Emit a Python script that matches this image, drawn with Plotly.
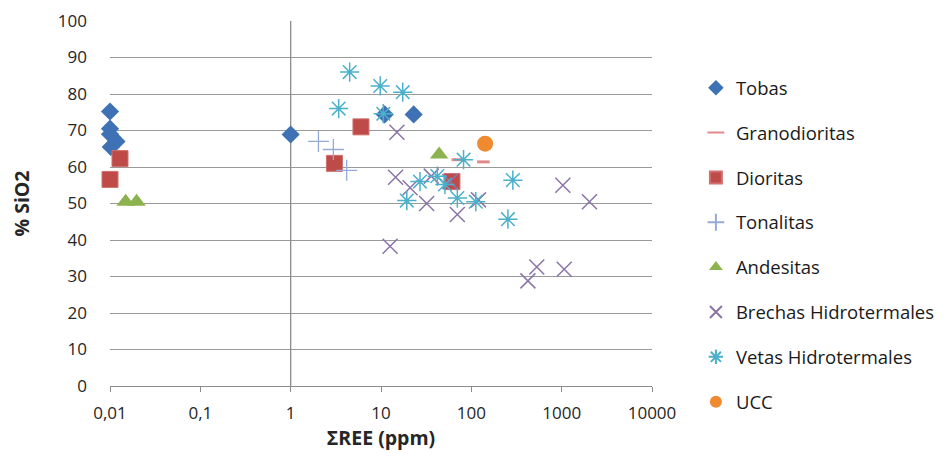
import plotly.graph_objects as go

# ---- data ----
tobas_x = [0.01, 0.01, 0.01, 0.0118, 0.0102, 1.0, 11.0, 23.0]
tobas_y = [75.2, 70.5, 69.0, 67.0, 65.5, 68.9, 74.4, 74.4]

grano_x = [71, 136]
grano_y = [62.0, 61.4]

dior_x = [0.01, 0.0129, 6.0, 3.05, 61.0]
dior_y = [56.6, 62.3, 71.0, 61.0, 56.0]

tonal_x = [2.03, 2.97, 4.17]
tonal_y = [67.0, 64.8, 59.1]

andes_x = [0.0149, 0.0197, 44.0]
andes_y = [50.5, 50.5, 63.4]

brech_x = [15, 14.5, 21, 32, 36, 58, 70, 120, 12.6, 1030, 2030, 530, 423, 1067]
brech_y = [69.5, 57.2, 54.3, 50.0, 57.5, 56.0, 47.0, 51.0, 38.3, 55.0, 50.5, 32.6, 28.8, 32.0]

vetas_x = [4.5, 9.8, 17.4, 3.4, 10.6, 82, 27, 42, 51, 19.3, 70, 112, 288, 254]
vetas_y = [86.0, 82.2, 80.5, 76.0, 74.6, 62.0, 56.0, 57.5, 55.2, 50.8, 51.5, 50.5, 56.4, 45.7]

ucc_x = [142]
ucc_y = [66.4]

x_ticks = [0.01, 0.1, 1, 10, 100, 1000, 10000]
x_ticktext = ["0,01", "0,1", "1", "10", "100", "1000", "10000"]

FONT = "'Open Sans', Lato, sans-serif"

fig = go.Figure()

# vertical axis line crossing at x = 1
fig.add_trace(go.Scatter(x=[1, 1], y=[0, 100], mode="lines",
                         line=dict(color="#8c8c8c", width=1.3),
                         showlegend=False, hoverinfo="skip"))

series = [
    ("Tobas", tobas_x, tobas_y, dict(symbol="diamond", size=14, color="#3F72B5")),
    ("Granodioritas", grano_x, grano_y, dict(symbol="line-ew", size=9, color="#E2898B",
                                              line=dict(color="#E2898B", width=3))),
    ("Dioritas", dior_x, dior_y, dict(symbol="square", size=16, color="#BE4B48",
                                      line=dict(color="#D07070", width=1))),
    ("Tonalitas", tonal_x, tonal_y, dict(symbol="cross-thin", size=15, color="#96AAD8",
                                         line=dict(color="#96AAD8", width=1.3))),
    ("Andesitas", andes_x, andes_y, dict(symbol="triangle-up", size=16, color="#8DB351")),
    ("Brechas Hidrotermales", brech_x, brech_y, dict(symbol="x-thin", size=15, color="#8A74A8",
                                                     line=dict(color="#8A74A8", width=1.5))),
    ("Vetas Hidrotermales", vetas_x, vetas_y, dict(symbol="asterisk", size=16, color="#4BB0CC",
                                                   line=dict(color="#4BB0CC", width=1.5))),
    ("UCC", ucc_x, ucc_y, dict(symbol="circle", size=16, color="#F08A30")),
]

for i, (name, xs, ys, mk) in enumerate(series):
    fig.add_trace(go.Scatter(x=xs, y=ys, mode="markers", name=name, marker=mk,
                             legendgroup=f"g{i}", cliponaxis=False))

fig.update_layout(
    width=938, height=451,
    margin=dict(l=102, r=294, t=13, b=73, autoexpand=False),
    paper_bgcolor="white", plot_bgcolor="white",
    font=dict(family=FONT, size=18, color="#262626"),
    legend=dict(x=1.081, y=0.868, xanchor="left", yanchor="top",
                font=dict(size=18.5, color="#1a1a1a"), itemsizing="constant",
                tracegroupgap=17.8, itemwidth=30, bgcolor="rgba(0,0,0,0)"),
    showlegend=True,
)

fig.update_xaxes(type="log", range=[-2, 4], tickvals=x_ticks, ticktext=x_ticktext,
                 showgrid=False, showline=True, linecolor="#8c8c8c", linewidth=1.3,
                 ticks="outside", ticklen=5, tickcolor="#8c8c8c", zeroline=False,
                 tickfont=dict(size=17), ticklabelstandoff=6, automargin=False,
                 title=dict(text="<b>ΣREE (ppm)</b>", font=dict(size=19.5), standoff=0))
fig.update_yaxes(range=[0, 100], dtick=10, showgrid=True, gridcolor="#9a9a9a",
                 gridwidth=1.3, showline=False, zeroline=False, ticks="",
                 tickfont=dict(size=17), ticklabelstandoff=22, automargin=False,
                 title=dict(text="<b>% SiO2</b>", font=dict(size=19.5), standoff=24))

fig.write_html("out.html")
